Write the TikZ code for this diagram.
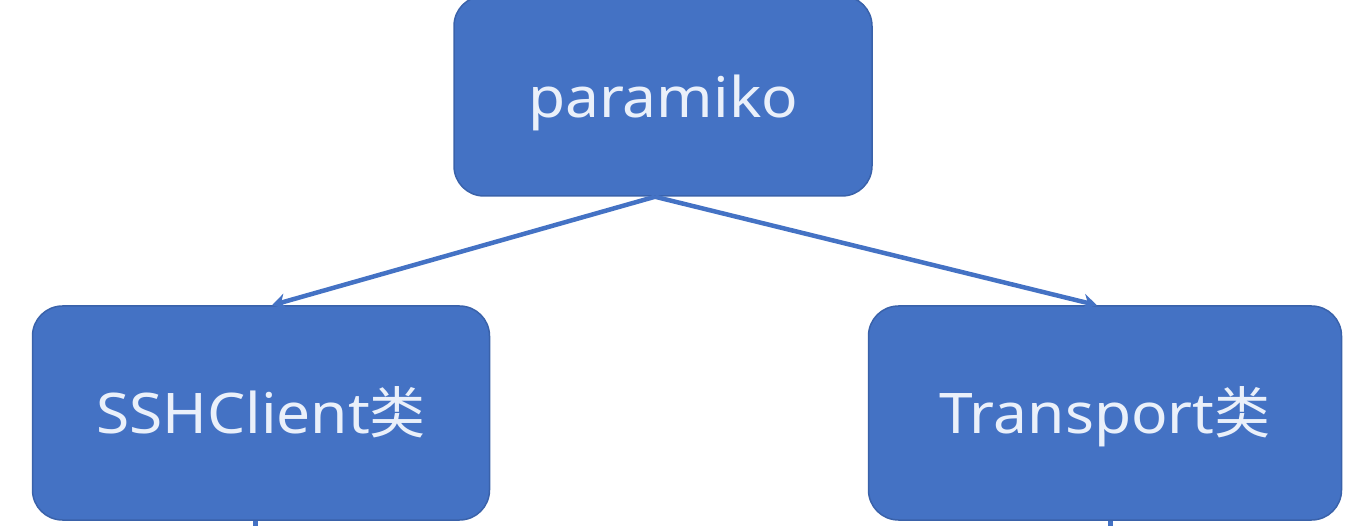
\documentclass[tikz,border=0pt]{standalone}
\usepackage{fontspec}
\setmainfont{Noto Sans}[FakeStretch=1.08]
\newfontfamily\cjk{Noto Sans CJK SC}
\usetikzlibrary{arrows.meta,calc}
\definecolor{boxblue}{HTML}{4472C4}
\definecolor{boxedge}{HTML}{3A62AA}
\definecolor{txt}{HTML}{EAF0FA}
\tikzset{
  box/.style={draw=boxedge, line width=1.5pt, fill=boxblue, rounded corners=30pt,
    text=txt, font=\fontsize{56}{60}\selectfont, inner sep=0pt},
  link/.style={draw=boxblue, line width=4.5pt, -{Stealth[length=14pt,width=16pt]}},
  stub/.style={draw=boxblue, line width=5pt}
}
\begin{document}
\begin{tikzpicture}[x=1pt,y=1pt]
\useasboundingbox (0,0) rectangle (1349,-526);
\node[box, minimum width=418pt, minimum height=200pt, text depth=14pt, text height=58pt] (top) at (663,-96) {paramiko};
\node[box, minimum width=457pt, minimum height=214pt, text depth=10pt, text height=50pt] (ssh) at (261,-413) {SSHClient{\cjk 类}};
\node[box, minimum width=473pt, minimum height=214pt, text depth=10pt, text height=50pt] (tr) at (1105,-413) {Transport{\cjk 类}};
\coordinate (ssht) at ($(ssh.north)+(11,0)$);
\coordinate (trt) at ($(tr.north)+(-8,0)$);
\coordinate (topb) at ($(top.south)+(-8,0)$);
\draw[link] (topb) -- (ssht);
\draw[link] (topb) -- (trt);
\coordinate (sshd) at ($(ssh.south)+(-6,-12)$);
\coordinate (trd) at ($(tr.south)+(5,-12)$);
\draw[stub] (ssh.south) ++(-6,0) -- (sshd);
\draw[stub] (tr.south) ++(5,0) -- (trd);
\end{tikzpicture}
\end{document}
